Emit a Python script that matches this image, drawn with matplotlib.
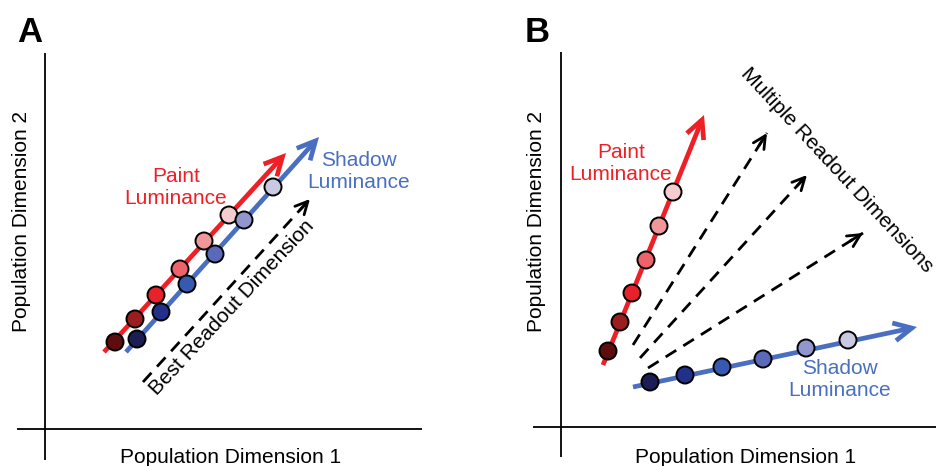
import matplotlib
matplotlib.use("Agg")
import matplotlib.pyplot as plt

plt.rcParams['font.family'] = ['Liberation Sans', 'DejaVu Sans']

# ---- data (population space, origin at the axes crossing) ----
lum_reds = ['#5e0c0e', '#9a1d1f', '#e8222a', '#ec636a', '#f0979c', '#f5cdcf']
lum_blues = ['#1d1d55', '#23308a', '#3659b2', '#5b69b9', '#9196cd', '#c9c9e3']

# Panel A: nearly parallel paint / shadow trajectories
a_paint_x = [70, 90, 111, 135, 159, 184]
a_paint_y = [87, 110, 134, 160, 188, 214]
a_shadow_x = [92, 116, 142, 170, 199, 228]
a_shadow_y = [90, 117, 145, 175, 209, 242]
a_paint_axis = [(59, 77), (241, 276)]
a_shadow_axis = [(81, 77), (274, 292)]
a_readout = [[(98, 47), (265, 230)]]

# Panel B: orthogonal-ish paint / shadow trajectories
b_paint_x = [47, 59, 71, 85, 98, 112]
b_paint_y = [76, 105, 134, 167, 201, 235]
b_shadow_x = [89, 124, 161, 202, 245, 287]
b_shadow_y = [45, 52, 60, 68, 79, 87]
b_paint_axis = [(42, 62), (143, 312)]
b_shadow_axis = [(72, 40), (356, 100)]
b_readout = [[(72, 82), (206, 294)],
             [(79, 69), (246, 252)],
             [(87, 59), (302, 194)]]

RED = '#ee2026'
BLUE = '#4a6fc0'
FS = 15

W, H = 937, 466
fig = plt.figure(figsize=(W / 100, H / 100), dpi=100)


def make_axes(left, top, right, bottom, cx, cy):
    """Axes placed in pixel units; the two axis lines cross at (cx, cy)."""
    ax = fig.add_axes([left / W, (H - bottom) / H, (right - left) / W, (bottom - top) / H])
    ax.set_xlim(left - cx, right - cx)
    ax.set_ylim(cy - bottom, cy - top)
    ax.axis('off')
    ax.axvline(0, color='black', lw=1.3)
    ax.axhline(0, color='black', lw=1.3)
    return ax


def trajectory(ax, axis, xs, ys, color, shades):
    (x0, y0), (x1, y1) = axis
    ax.annotate('', xy=(x1, y1), xytext=(x0, y0),
                arrowprops=dict(arrowstyle='->,head_length=1.3,head_width=0.65',
                                color=color, lw=3.4, shrinkA=0, shrinkB=0,
                                joinstyle='miter', capstyle='butt'),
                zorder=2)
    ax.scatter(xs, ys, s=150, c=shades, edgecolors='black', linewidths=1.4, zorder=3)


def readout(ax, seg):
    (x0, y0), (x1, y1) = seg
    ax.plot([x0, x1], [y0, y1], color='black', lw=2.0, ls=(0, (4.5, 3.0)),
            dash_capstyle='butt', zorder=1)
    fx = x1 - (x1 - x0) * 0.06
    fy = y1 - (y1 - y0) * 0.06
    ax.annotate('', xy=(x1, y1), xytext=(fx, fy),
                arrowprops=dict(arrowstyle='->,head_length=0.9,head_width=0.45',
                                color='black', lw=2.0, shrinkA=0, shrinkB=0),
                zorder=1)


# ---------------- Panel A ----------------
axA = make_axes(17, 53, 422, 460, 45, 429)
for seg in a_readout:
    readout(axA, seg)
trajectory(axA, a_paint_axis, a_paint_x, a_paint_y, RED, lum_reds)
trajectory(axA, a_shadow_axis, a_shadow_x, a_shadow_y, BLUE, lum_blues)
axA.text(131, 241, 'Paint\nLuminance', color=RED, fontsize=FS, ha='center', va='center',
         linespacing=1.2)
axA.text(314, 258, 'Shadow\nLuminance', color=BLUE, fontsize=FS, ha='center', va='center',
         linespacing=1.2)
axA.text(187, 121, 'Best Readout Dimension', rotation=47, rotation_mode='anchor',
         ha='center', va='center', fontsize=FS)
axA.text(-23, 207, 'Population Dimension 2', rotation=90, ha='center', va='center',
         fontsize=FS, clip_on=False)
axA.text(186, -34, 'Population Dimension 1', ha='center', va='baseline', fontsize=FS,
         clip_on=False)

# ---------------- Panel B ----------------
axB = make_axes(533, 52, 937, 457, 561, 427)
for seg in b_readout:
    readout(axB, seg)
trajectory(axB, b_paint_axis, b_paint_x, b_paint_y, RED, lum_reds)
trajectory(axB, b_shadow_axis, b_shadow_x, b_shadow_y, BLUE, lum_blues)
axB.text(60, 264, 'Paint\nLuminance', color=RED, fontsize=FS, ha='center', va='center',
         linespacing=1.2)
axB.text(279, 47, 'Shadow\nLuminance', color=BLUE, fontsize=FS, ha='center', va='center',
         linespacing=1.2)
axB.text(276, 257, 'Multiple Readout Dimensions', rotation=-47, rotation_mode='anchor',
         ha='center', va='center', fontsize=FS)
axB.text(-24, 205, 'Population Dimension 2', rotation=90, ha='center', va='center',
         fontsize=FS, clip_on=False)
axB.text(185, -36, 'Population Dimension 1', ha='center', va='baseline', fontsize=FS,
         clip_on=False)

# panel letters
fig.text(17 / W, (H - 42) / H, 'A', fontsize=25, fontweight='bold', ha='left', va='baseline')
fig.text(525 / W, (H - 42) / H, 'B', fontsize=25, fontweight='bold', ha='left', va='baseline')

fig.savefig('out.png', dpi=100)
